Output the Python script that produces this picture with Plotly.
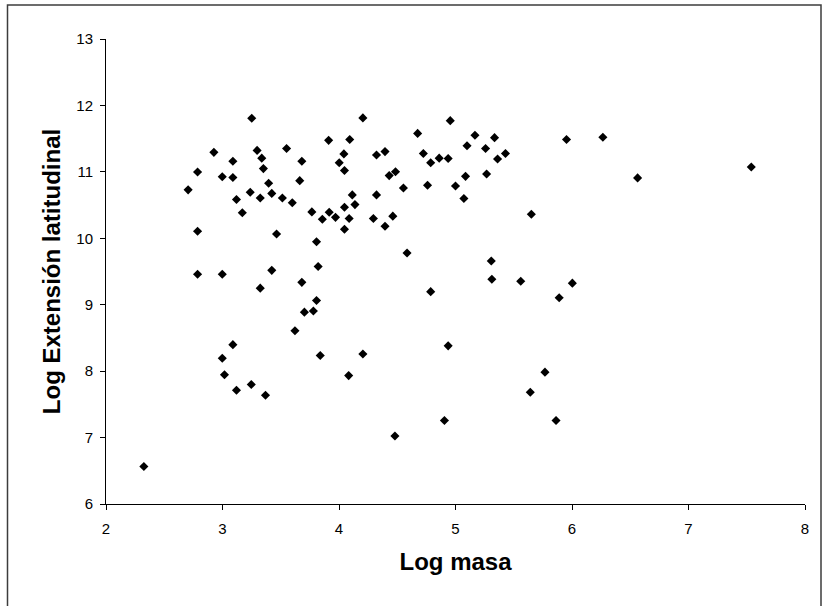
import plotly.graph_objects as go

# Log body mass vs. log latitudinal extent, one marker per species
log_masa = [
    2.325, 2.705, 2.786, 2.786, 2.786, 2.926, 2.998, 2.998, 2.998, 3.017,
    3.089, 3.089, 3.089, 3.120, 3.120, 3.170, 3.238, 3.251, 3.247, 3.297,
    3.324, 3.324, 3.337, 3.351, 3.369, 3.396, 3.423, 3.423, 3.464, 3.514,
    3.550, 3.599, 3.622, 3.663, 3.681, 3.681, 3.703, 3.767, 3.780, 3.807,
    3.807, 3.821, 3.839, 3.857, 3.911, 3.916, 3.970, 4.002, 4.042, 4.047,
    4.047, 4.047, 4.083, 4.087, 4.092, 4.114, 4.137, 4.205, 4.205, 4.295,
    4.322, 4.322, 4.395, 4.395, 4.431, 4.462, 4.480, 4.485, 4.553, 4.584,
    4.675, 4.724, 4.760, 4.787, 4.787, 4.860, 4.905, 4.937, 4.937, 4.955,
    5.000, 5.072, 5.086, 5.099, 5.167, 5.258, 5.267, 5.307, 5.312, 5.335,
    5.361, 5.429, 5.560, 5.642, 5.651, 5.768, 5.863, 5.890, 5.953, 6.003,
    6.265, 6.563, 7.539,
]
log_extension = [
    6.564, 10.729, 10.997, 10.105, 9.459, 11.294, 10.927, 9.459, 8.195, 7.945,
    11.160, 10.915, 8.399, 10.583, 7.712, 10.385, 10.694, 11.806, 7.799, 11.323,
    10.606, 9.249, 11.206, 11.049, 7.636, 10.828, 10.676, 9.517, 10.065, 10.606,
    11.352, 10.536, 8.609, 10.868, 11.160, 9.337, 8.888, 10.397, 8.906, 9.948,
    9.063, 9.575, 8.236, 10.286, 11.474, 10.391, 10.315, 11.136, 11.270, 11.020,
    10.467, 10.135, 7.933, 10.298, 11.486, 10.653, 10.507, 11.812, 8.259, 10.298,
    10.653, 11.253, 11.305, 10.181, 10.944, 10.333, 7.024, 11.002, 10.758, 9.779,
    11.579, 11.276, 10.798, 11.136, 9.197, 11.206, 7.257, 11.200, 8.381, 11.771,
    10.787, 10.600, 10.932, 11.393, 11.550, 11.352, 10.967, 9.657, 9.383, 11.515,
    11.194, 11.276, 9.354, 7.683, 10.362, 7.985, 7.257, 9.104, 11.486, 9.325,
    11.521, 10.909, 11.072,
]

x_ticks = [2, 3, 4, 5, 6, 7, 8]
y_ticks = [6, 7, 8, 9, 10, 11, 12, 13]

fig = go.Figure(
    go.Scatter(
        x=log_masa,
        y=log_extension,
        mode="markers",
        marker=dict(symbol="diamond", size=7, color="black", line=dict(width=0)),
        hoverinfo="x+y",
    )
)

axis_common = dict(
    showgrid=False,
    zeroline=False,
    showline=True,
    linecolor="black",
    linewidth=1,
    ticks="outside",
    ticklen=5,
    tickcolor="black",
    tickwidth=1,
    tickfont=dict(family="Liberation Sans, Arial, sans-serif", size=15, color="black"),
)

fig.update_xaxes(
    range=[2, 8],
    tickvals=x_ticks,
    ticklabelstandoff=6,
    title=dict(
        text="Log masa",
        font=dict(family="Liberation Sans, Arial, sans-serif", size=24, color="black", weight="bold"),
        standoff=17,
    ),
    **axis_common,
)
fig.update_yaxes(
    range=[6, 13],
    tickvals=y_ticks,
    ticklabelstandoff=4,
    title=dict(
        text="Log Extensión latitudinal",
        font=dict(family="Liberation Sans, Arial, sans-serif", size=24, color="black", weight="bold"),
        standoff=8,
    ),
    **axis_common,
)

# Chart-area frame around the whole figure
plot_left, plot_right, plot_top, plot_bottom = 106, 805, 39, 504
pw, ph = plot_right - plot_left, plot_bottom - plot_top
fig.add_shape(
    type="rect",
    xref="paper", yref="paper",
    x0=(7.5 - plot_left) / pw, x1=(821 - plot_left) / pw,
    y0=(plot_bottom - 640) / ph, y1=(plot_bottom - 5) / ph,
    line=dict(color="#3c3c3c", width=1.5),
    fillcolor="rgba(0,0,0,0)",
    layer="below",
)

fig.update_layout(
    width=825,
    height=606,
    margin=dict(l=plot_left, r=825 - plot_right, t=plot_top, b=606 - plot_bottom),
    paper_bgcolor="white",
    plot_bgcolor="white",
    showlegend=False,
    font=dict(family="Liberation Sans, Arial, sans-serif"),
)

fig.write_html("out.html")
